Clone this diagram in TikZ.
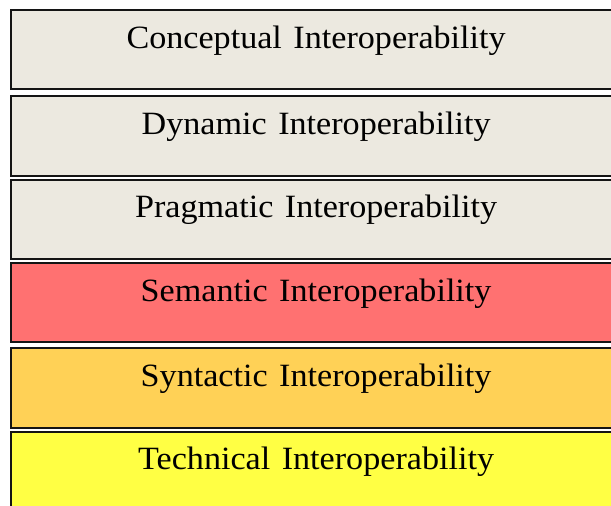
\documentclass[tikz,border=0pt]{standalone}
\usepackage{fontspec}
\newfontfamily\lblfont[FakeStretch=1.05,WordSpace=1.35]{Liberation Serif}
\definecolor{beige}{RGB}{236,233,224}
\definecolor{redbox}{RGB}{255,113,113}
\definecolor{orangebox}{RGB}{255,209,86}
\definecolor{yellowbox}{RGB}{255,255,68}
\definecolor{edge}{RGB}{20,20,20}
\begin{document}
\begin{tikzpicture}[x=1pt,y=-1pt,
  layer/.style={draw=edge,line width=2.2pt,rectangle,inner sep=0pt,anchor=north west,minimum width=610pt},
  lbl/.style={anchor=base,inner sep=0pt,font=\lblfont\fontsize{32.5}{32.5}\selectfont}]
\useasboundingbox (0,0) rectangle (611,506);
\node[layer,fill=beige,minimum height=79pt] (b1) at (10,9) {};
\node[layer,fill=beige,minimum height=79.5pt] (b2) at (10,95) {};
\node[layer,fill=beige,minimum height=79pt] (b3) at (10,178.5) {};
\node[layer,fill=redbox,minimum height=79pt] (b4) at (10,262) {};
\node[layer,fill=orangebox,minimum height=79.5pt] (b5) at (10,347) {};
\node[layer,fill=yellowbox,minimum height=90pt] (b6) at (10,431) {};
\node[lbl] (t1) at ([yshift=-39pt]b1.north) {Conceptual Interoperability};
\node[lbl] (t2) at ([yshift=-39pt]b2.north) {Dynamic Interoperability};
\node[lbl] (t3) at ([yshift=-39pt]b3.north) {Pragmatic Interoperability};
\node[lbl] (t4) at ([yshift=-39pt]b4.north) {Semantic Interoperability};
\node[lbl] (t5) at ([yshift=-39pt]b5.north) {Syntactic Interoperability};
\node[lbl] (t6) at ([yshift=-38pt]b6.north) {Technical Interoperability};
\end{tikzpicture}
\end{document}
